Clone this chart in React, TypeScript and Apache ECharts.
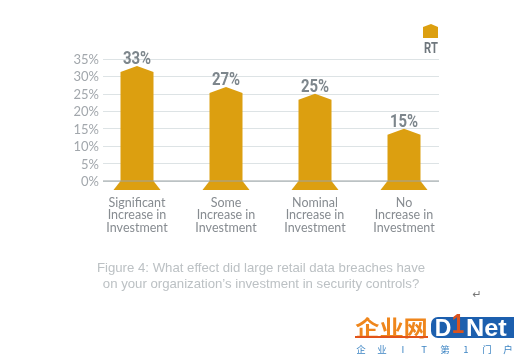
import React, { useEffect, useRef } from "react";
import * as echarts from "echarts";

const categories = [
  "Significant\nIncrease in\nInvestment",
  "Some\nIncrease in\nInvestment",
  "Nominal\nIncrease in\nInvestment",
  "No\nIncrease in\nInvestment",
];
const values = [33, 27, 25, 15];
const seriesName = "RT";
const yTicks = [0, 5, 10, 15, 20, 25, 30, 35];
const captionLines = [
  "Figure 4: What effect did large retail data breaches have",
  "on your organization\u2019s investment in security controls?",
];
const footerChars = ["企", "业", "I", "T", "第", "1", "门", "户"];

const GOLD = "#dc9f10";
const Y_TOP = 59;
const Y_ZERO = 181;

function renderBar(params: any, api: any) {
  const v = api.value(1);
  const [cx, top] = api.coord([api.value(0), v]);
  const [, base] = api.coord([api.value(0), 0]);
  const hw = 16.5;
  const bw = 23.5;
  return {
    type: "group",
    children: [
      {
        type: "polygon",
        shape: {
          points: [
            [cx - hw, base],
            [cx - hw, top + 6],
            [cx, top],
            [cx + hw, top + 6],
            [cx + hw, base],
          ],
        },
        style: { fill: GOLD },
      },
      {
        type: "polygon",
        shape: {
          points: [
            [cx - hw, base],
            [cx + hw, base],
            [cx + bw, base + 9],
            [cx - bw, base + 9],
          ],
        },
        style: { fill: GOLD },
      },
      {
        type: "text",
        x: cx,
        y: top - 8,
        scaleX: 0.83,
        style: {
          text: v + "%",
          fill: "#7d868c",
          font: 'bold 18px Roboto, sans-serif',
          align: "center",
          verticalAlign: "middle",
        },
      },
    ],
  };
}

export default function App() {
  const ref = useRef<HTMLDivElement>(null);
  useEffect(() => {
    document.body.style.margin = "0";
    document.body.style.background = "#fff";
    const chart = echarts.init(ref.current!, undefined, { renderer: "svg" });
    const gridCommon = { top: Y_TOP, height: Y_ZERO - Y_TOP };
    const footerX = [361, 382, 403, 424, 445, 466, 487, 508];
    chart.setOption({
      animation: false,
      backgroundColor: "#ffffff",
      grid: [
        { ...gridCommon, left: 103, width: 336 },
        { ...gridCommon, left: 92.5, width: 356 },
      ],
      xAxis: [
        { type: "category", gridIndex: 0, show: false, data: categories },
        {
          type: "category",
          gridIndex: 1,
          data: categories,
          axisTick: { show: false },
          axisLine: { show: false },
          axisLabel: {
            margin: 15,
            color: "#878c91",
            fontFamily: "Lato, sans-serif",
            fontSize: 12.5,
            lineHeight: 12.4,
            interval: 0,
          },
        },
      ],
      yAxis: [
        {
          type: "value",
          gridIndex: 0,
          min: 0,
          max: 35,
          interval: 5,
          axisLine: { show: false },
          axisTick: { show: false },
          axisLabel: {
            margin: 4,
            color: "#a2a7ac",
            fontFamily: "Lato, sans-serif",
            fontSize: 13,
            formatter: (v: number) => (yTicks.includes(v) ? v + "%" : ""),
          },
          splitLine: { lineStyle: { color: "#dde3e5", width: 1 } },
        },
        { type: "value", gridIndex: 1, min: 0, max: 35, interval: 5, show: false },
      ],
      series: [
        {
          name: seriesName,
          type: "custom",
          xAxisIndex: 1,
          yAxisIndex: 1,
          clip: false,
          renderItem: renderBar,
          encode: { x: 0, y: 1 },
          data: values.map((v, i) => [i, v]),
          z: 3,
        },
      ],
      graphic: [
        { type: "line", z: 10, shape: { x1: 103, y1: 181, x2: 439, y2: 181 }, style: { stroke: "#9aa2a4", lineWidth: 1 } },
        {
          type: "polygon",
          shape: { points: [[423, 27], [431, 24], [438, 27], [438, 38], [423, 38]] },
          style: { fill: GOLD },
        },
        {
          type: "text", x: 431, y: 48, scaleX: 0.8,
          style: { text: seriesName, fill: "#6f777d", font: 'bold 14px Roboto, sans-serif', align: "center", verticalAlign: "middle" },
        },
        ...captionLines.map((t, i) => ({
          type: "text", x: 261, y: 267.5 + i * 16.3,
          style: { text: t, fill: "#bcc1c4", font: '13.2px "Liberation Sans", sans-serif', align: "center", verticalAlign: "middle" },
        })),
        {
          type: "text", x: 477, y: 294,
          style: { text: "\u21b5", fill: "#777", font: '11px "DejaVu Sans", sans-serif', align: "center", verticalAlign: "middle" },
        },
        {
          type: "text", x: 391.5, y: 326.5, scaleX: 1.1,
          style: { text: "企业网", fill: "#ef861c", font: 'bold 22px "Noto Sans CJK SC", sans-serif', align: "center", verticalAlign: "middle" },
        },
        { type: "rect", shape: { x: 355, y: 336, width: 73, height: 2 }, style: { fill: "#e2541a" } },
        {
          type: "rect",
          shape: { x: 431, y: 317, width: 83, height: 21, r: [7, 0, 0, 7] },
          style: { fill: "#1c5fae" },
        },
        {
          type: "text", x: 443, y: 327.5,
          style: { text: "D", fill: "#ffffff", font: 'bold 23px "Liberation Sans", sans-serif', align: "center", verticalAlign: "middle" },
        },
        {
          type: "text", x: 458, y: 323, scaleX: 0.8,
          style: { text: "1", fill: "#d9531e", font: 'bold 28px "Liberation Sans", sans-serif', align: "center", verticalAlign: "middle" },
        },
        {
          type: "text", x: 466, y: 327.5, scaleX: 1.1,
          style: { text: "Net", fill: "#ffffff", font: 'bold 23px "Liberation Sans", sans-serif', align: "left", verticalAlign: "middle" },
        },
        ...footerChars.map((c, i) => ({
          type: "text", x: footerX[i], y: 349,
          style: { text: c, fill: "#3f86c4", font: '9.5px "Noto Sans CJK SC", sans-serif', align: "center", verticalAlign: "middle" },
        })),
      ],
    });
    return () => chart.dispose();
  }, []);
  return (
    <div
      ref={ref}
      style={{ position: "absolute", left: 0, top: 0, width: 514, height: 355, filter: "blur(0.6px)" }}
    />
  );
}
